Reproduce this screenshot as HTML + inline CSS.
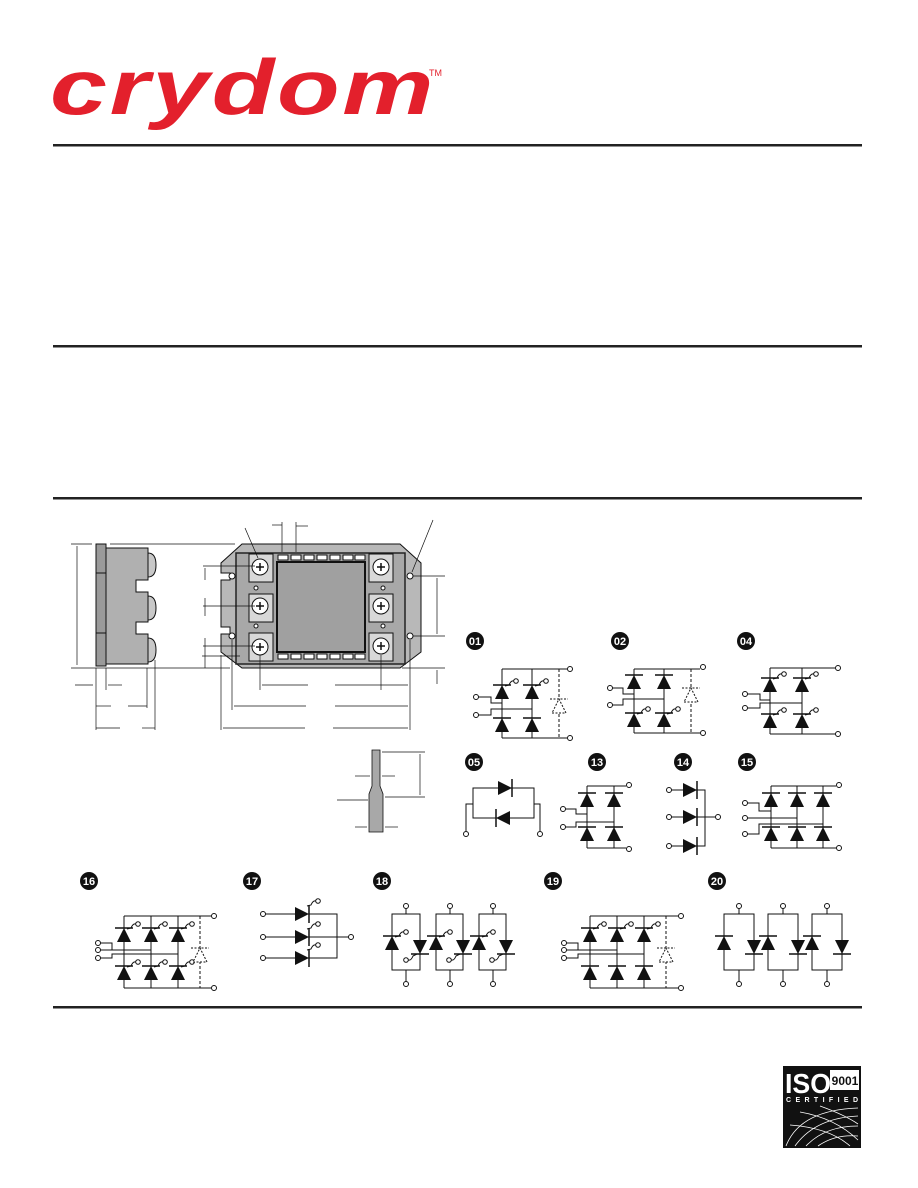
<!DOCTYPE html>
<html><head><meta charset="utf-8"><style>
html,body{margin:0;padding:0;background:#fff}
svg{display:block}
text{font-family:"Liberation Sans",sans-serif}
</style></head><body>
<svg width="918" height="1188" viewBox="0 0 918 1188" xmlns="http://www.w3.org/2000/svg">
<defs>
<g id="du"><polygon points="-7,7 7,7 0,-7" fill="#111"/><line x1="-9" y1="-7" x2="9" y2="-7" stroke="#111" stroke-width="1.5"/></g>
<g id="dd"><polygon points="-7,-7 7,-7 0,7" fill="#111"/><line x1="-9" y1="7" x2="9" y2="7" stroke="#111" stroke-width="1.5"/></g>
<g id="dr"><polygon points="-7,-7 -7,7 7,0" fill="#111"/><line x1="7" y1="-9" x2="7" y2="9" stroke="#111" stroke-width="1.5"/></g>
<g id="dl"><polygon points="7,-7 7,7 -7,0" fill="#111"/><line x1="-7" y1="-9" x2="-7" y2="9" stroke="#111" stroke-width="1.5"/></g>
<g id="g"><path d="M3,-6 L7,-7 Q9,-12 12,-11" fill="none" stroke="#111" stroke-width="1"/><circle cx="14" cy="-11" r="2.3" fill="#fff" stroke="#111" stroke-width="1"/></g>
<g id="g2"><path d="M-3,7 L-7,9 Q-9,14 -12,13" fill="none" stroke="#111" stroke-width="1"/><circle cx="-14" cy="13" r="2.3" fill="#fff" stroke="#111" stroke-width="1"/></g>
<g id="du0"><polygon points="-7,7 7,7 0,-7" fill="#fff" stroke="#111" stroke-dasharray="2,1.5"/><line x1="-9" y1="-7" x2="9" y2="-7" stroke="#111" stroke-dasharray="2,1.5"/></g>
<circle id="t" r="2.5" fill="#fff" stroke="#111" stroke-width="1"/>
</defs>

<text x="50" y="114" font-size="78" font-weight="bold" font-style="italic" fill="#e3202c" textLength="386" lengthAdjust="spacingAndGlyphs" style="letter-spacing:2px">crydom</text>
<text x="429" y="76" font-size="9" fill="#e3202c">TM</text>

<g fill="#222">
<rect x="53" y="144" width="809" height="2.5"/>
<rect x="53" y="345" width="809" height="2.5"/>
<rect x="53" y="497" width="809" height="2.5"/>
<rect x="53" y="1006" width="809" height="2.5"/>
</g>

<g stroke="#111" stroke-width="1">
<rect x="96" y="544" width="10" height="122" fill="#9a9a9a"/>
<line x1="96" y1="573" x2="106" y2="573"/><line x1="96" y1="633" x2="106" y2="633"/>
<path d="M106,548 H148 V580 H136 V592 H148 V622 H136 V634 H148 V664 H106 Z" fill="#b0b0b0"/>
<path d="M148,553 q8,0 8,12 q0,12 -8,12 Z M148,596 q8,0 8,12 q0,12 -8,12 Z M148,638 q8,0 8,12 q0,12 -8,12 Z" fill="#c8c8c8"/>
</g>
<g stroke="#111" stroke-width="0.7" fill="none">
<line x1="71" y1="544" x2="92" y2="544"/><line x1="71" y1="668" x2="230" y2="668"/>
<line x1="77" y1="546" x2="77" y2="665"/>
<line x1="110" y1="544" x2="235" y2="544"/>
<line x1="96" y1="668" x2="96" y2="730"/><line x1="106" y1="668" x2="106" y2="690"/>
<line x1="147" y1="668" x2="147" y2="708"/><line x1="155" y1="660" x2="155" y2="730"/>
<line x1="75" y1="685" x2="93" y2="685"/><line x1="108" y1="685" x2="122" y2="685"/>
<line x1="96" y1="706" x2="111" y2="706"/><line x1="128" y1="706" x2="147" y2="706"/>
<line x1="96" y1="728" x2="120" y2="728"/><line x1="142" y1="728" x2="155" y2="728"/>
</g>

<g stroke="#111" stroke-width="1">
<path d="M242,544 H400 L421,563 V652 L400,668 H242 L221,652 V634 H230 V627 H221 V580 H230 V573 H221 V563 Z" fill="#b8b8b8"/>
<rect x="236" y="553" width="169" height="111" fill="#a8a8a8" stroke="#222" stroke-width="1.5"/>
<rect x="277" y="562" width="88" height="90" fill="#a0a0a0" stroke="#111" stroke-width="2"/>
<rect x="249" y="554" width="24" height="28" fill="#d8d8d8"/>
<rect x="249" y="594" width="24" height="28" fill="#d8d8d8"/>
<rect x="249" y="633" width="24" height="28" fill="#d8d8d8"/>
<rect x="369" y="554" width="24" height="28" fill="#d8d8d8"/>
<rect x="369" y="594" width="24" height="28" fill="#d8d8d8"/>
<rect x="369" y="633" width="24" height="28" fill="#d8d8d8"/>
</g>
<g fill="#fff" stroke="#111" stroke-width="1">
<circle cx="260" cy="567" r="8"/><circle cx="260" cy="606" r="8"/><circle cx="260" cy="647" r="8"/>
<circle cx="381" cy="567" r="8"/><circle cx="381" cy="606" r="8"/><circle cx="381" cy="646" r="8"/>
<circle cx="256" cy="588" r="2"/><circle cx="256" cy="626" r="2"/><circle cx="383" cy="588" r="2"/><circle cx="383" cy="626" r="2"/>
<circle cx="410" cy="576" r="3"/><circle cx="410" cy="636" r="3"/><circle cx="232" cy="576" r="3"/><circle cx="232" cy="636" r="3"/>
</g>
<g stroke="#111" stroke-width="1.5">
<path d="M256,567h8M260,563v8M256,606h8M260,602v8M256,647h8M260,643v8M377,567h8M381,563v8M377,606h8M381,602v8M377,646h8M381,642v8"/>
</g>
<g fill="#fff" stroke="#111" stroke-width="1">
<rect x="278" y="555" width="10" height="5"/><rect x="291" y="555" width="10" height="5"/><rect x="304" y="555" width="10" height="5"/><rect x="317" y="555" width="10" height="5"/><rect x="330" y="555" width="10" height="5"/><rect x="343" y="555" width="10" height="5"/><rect x="355" y="555" width="10" height="5"/>
<rect x="278" y="654" width="10" height="5"/><rect x="291" y="654" width="10" height="5"/><rect x="304" y="654" width="10" height="5"/><rect x="317" y="654" width="10" height="5"/><rect x="330" y="654" width="10" height="5"/><rect x="343" y="654" width="10" height="5"/><rect x="355" y="654" width="10" height="5"/>
</g>
<g stroke="#111" stroke-width="0.7" fill="none">
<line x1="282" y1="522" x2="282" y2="552"/><line x1="296" y1="522" x2="296" y2="552"/>
<line x1="272" y1="525" x2="282" y2="525"/><line x1="296" y1="526" x2="308" y2="526"/>
<line x1="245" y1="528" x2="258" y2="558"/><line x1="433" y1="520" x2="412" y2="572"/>
<line x1="203" y1="566" x2="255" y2="566"/><line x1="203" y1="606" x2="255" y2="606"/><line x1="203" y1="646" x2="255" y2="646"/><line x1="202" y1="656" x2="240" y2="656"/>
<line x1="205" y1="568" x2="205" y2="580"/><line x1="205" y1="598" x2="205" y2="616"/><line x1="205" y1="638" x2="205" y2="668"/>
<line x1="413" y1="576" x2="445" y2="576"/><line x1="413" y1="636" x2="445" y2="636"/><line x1="402" y1="668" x2="445" y2="668"/>
<line x1="437" y1="578" x2="437" y2="634"/><line x1="437" y1="670" x2="437" y2="684"/>
<line x1="260" y1="655" x2="260" y2="690"/><line x1="381" y1="655" x2="381" y2="690"/><line x1="410" y1="640" x2="410" y2="730"/>
<line x1="221" y1="655" x2="221" y2="730"/><line x1="232" y1="640" x2="232" y2="710"/>
<line x1="262" y1="685" x2="308" y2="685"/><line x1="335" y1="685" x2="408" y2="685"/>
<line x1="234" y1="706" x2="306" y2="706"/><line x1="335" y1="706" x2="408" y2="706"/>
<line x1="223" y1="728" x2="305" y2="728"/><line x1="333" y1="728" x2="408" y2="728"/>
</g>

<g stroke="#111" stroke-width="0.8">
<path d="M372,750 H380 V786 L383,794 V832 H369 V794 L372,786 Z" fill="#a8a8a8"/>
<g fill="none" stroke-width="0.7">
<line x1="382" y1="752" x2="425" y2="752"/><line x1="385" y1="797" x2="425" y2="797"/>
<line x1="420" y1="754" x2="420" y2="795"/>
<line x1="355" y1="776" x2="370" y2="776"/><line x1="382" y1="776" x2="395" y2="776"/>
<line x1="337" y1="800" x2="368" y2="800"/>
<line x1="355" y1="827" x2="367" y2="827"/><line x1="385" y1="827" x2="398" y2="827"/>
</g></g>

<g font-size="11" font-weight="bold" fill="#fff" text-anchor="middle">
<circle cx="475" cy="641" r="9" fill="#111"/><text x="475" y="645">01</text>
<circle cx="620" cy="641" r="9" fill="#111"/><text x="620" y="645">02</text>
<circle cx="746" cy="641" r="9" fill="#111"/><text x="746" y="645">04</text>
<circle cx="474" cy="762" r="9" fill="#111"/><text x="474" y="766">05</text>
<circle cx="597" cy="762" r="9" fill="#111"/><text x="597" y="766">13</text>
<circle cx="683" cy="762" r="9" fill="#111"/><text x="683" y="766">14</text>
<circle cx="747" cy="762" r="9" fill="#111"/><text x="747" y="766">15</text>
<circle cx="89" cy="881" r="9" fill="#111"/><text x="89" y="885">16</text>
<circle cx="252" cy="881" r="9" fill="#111"/><text x="252" y="885">17</text>
<circle cx="382" cy="881" r="9" fill="#111"/><text x="382" y="885">18</text>
<circle cx="553" cy="881" r="9" fill="#111"/><text x="553" y="885">19</text>
<circle cx="717" cy="881" r="9" fill="#111"/><text x="717" y="885">20</text>
</g>

<g stroke="#111" stroke-width="1" fill="none">
<path d="M502,669H567M502,738H567M502,669V738M532,669V738M478,697H491V703H502M478,715H491V709H532"/>
<line x1="559" y1="669" x2="559" y2="738" stroke-dasharray="3,2"/>
<path d="M634,669H700M634,733H700M634,669V733M664,669V733M612,688H623V694H634M612,705H623V699H664"/>
<line x1="691" y1="669" x2="691" y2="733" stroke-dasharray="3,2"/>
<path d="M770,668H835M770,734H835M770,668V734M802,668V734M747,694H760V700H770M747,708H760V703H802"/>
<path d="M473,788H534V818H473ZM473,804H466V831M534,804H540V831"/>
<path d="M587,786H626M587,848H626M587,786V848M614,786V848M565,809H576V814H587M565,827H576V822H614"/>
<path d="M671,790H705V846H671M671,817H715"/>
<path d="M771,786H836M771,848H836M771,786V848M797,786V848M823,786V848M747,803H759V811H771M747,818H797M747,834H759V824H823"/>
<path d="M124,916H211M124,988H211M124,916V988M151,916V988M178,916V988M100,943H112V950H124M100,950H151M100,958H112V954H178"/>
<line x1="200" y1="916" x2="200" y2="988" stroke-dasharray="3,2"/>
<path d="M265,914H337V958H265M265,937H349"/>
<path d="M590,916H678M590,988H678M590,916V988M617,916V988M644,916V988M566,943H578V950H590M566,950H617M566,958H578V954H644"/>
<line x1="666" y1="916" x2="666" y2="988" stroke-dasharray="3,2"/>
<path d="M392,914H420V970H392ZM406,914V908M406,970V982"/>
<path d="M436,914H463V970H436ZM450,914V908M450,970V982"/>
<path d="M479,914H506V970H479ZM493,914V908M493,970V982"/>
<path d="M724,914H754V970H724ZM739,914V908M739,970V982"/>
<path d="M768,914H798V970H768ZM783,914V908M783,970V982"/>
<path d="M812,914H842V970H812ZM827,914V908M827,970V982"/>
</g>

<g>
<use href="#du" x="502" y="692"/><use href="#g" x="502" y="692"/><use href="#du" x="532" y="692"/><use href="#g" x="532" y="692"/>
<use href="#du" x="502" y="725"/><use href="#du" x="532" y="725"/><use href="#du0" x="559" y="706"/>
<use href="#du" x="634" y="682"/><use href="#du" x="664" y="682"/><use href="#du" x="634" y="720"/><use href="#g" x="634" y="720"/><use href="#du" x="664" y="720"/><use href="#g" x="664" y="720"/><use href="#du0" x="691" y="695"/>
<use href="#du" x="770" y="685"/><use href="#g" x="770" y="685"/><use href="#du" x="802" y="685"/><use href="#g" x="802" y="685"/><use href="#du" x="770" y="721"/><use href="#g" x="770" y="721"/><use href="#du" x="802" y="721"/><use href="#g" x="802" y="721"/>
<use href="#dr" x="505" y="788"/><use href="#dl" x="503" y="818"/>
<use href="#du" x="587" y="800"/><use href="#du" x="614" y="800"/><use href="#du" x="587" y="834"/><use href="#du" x="614" y="834"/>
<use href="#dr" x="690" y="790"/><use href="#dr" x="690" y="817"/><use href="#dr" x="690" y="846"/>
<use href="#du" x="771" y="800"/><use href="#du" x="797" y="800"/><use href="#du" x="823" y="800"/><use href="#du" x="771" y="834"/><use href="#du" x="797" y="834"/><use href="#du" x="823" y="834"/>
<use href="#du" x="124" y="935"/><use href="#g" x="124" y="935"/><use href="#du" x="151" y="935"/><use href="#g" x="151" y="935"/><use href="#du" x="178" y="935"/><use href="#g" x="178" y="935"/>
<use href="#du" x="124" y="973"/><use href="#g" x="124" y="973"/><use href="#du" x="151" y="973"/><use href="#g" x="151" y="973"/><use href="#du" x="178" y="973"/><use href="#g" x="178" y="973"/><use href="#du0" x="200" y="955"/>
<use href="#dr" x="302" y="914"/><use href="#g" x="304" y="912"/><use href="#dr" x="302" y="937"/><use href="#g" x="304" y="935"/><use href="#dr" x="302" y="958"/><use href="#g" x="304" y="956"/>
<use href="#du" x="590" y="935"/><use href="#g" x="590" y="935"/><use href="#du" x="617" y="935"/><use href="#g" x="617" y="935"/><use href="#du" x="644" y="935"/><use href="#g" x="644" y="935"/>
<use href="#du" x="590" y="973"/><use href="#du" x="617" y="973"/><use href="#du" x="644" y="973"/><use href="#du0" x="666" y="955"/>
<use href="#du" x="392" y="943"/><use href="#g" x="392" y="943"/><use href="#dd" x="420" y="947"/><use href="#g2" x="420" y="947"/>
<use href="#du" x="436" y="943"/><use href="#g" x="436" y="943"/><use href="#dd" x="463" y="947"/><use href="#g2" x="463" y="947"/>
<use href="#du" x="479" y="943"/><use href="#g" x="479" y="943"/><use href="#dd" x="506" y="947"/><use href="#g2" x="506" y="947"/>
<use href="#du" x="724" y="943"/><use href="#dd" x="754" y="947"/><use href="#du" x="768" y="943"/><use href="#dd" x="798" y="947"/><use href="#du" x="812" y="943"/><use href="#dd" x="842" y="947"/>
</g>
<g>
<use href="#t" x="570" y="669"/><use href="#t" x="570" y="738"/><use href="#t" x="476" y="697"/><use href="#t" x="476" y="715"/>
<use href="#t" x="703" y="667"/><use href="#t" x="703" y="733"/><use href="#t" x="610" y="688"/><use href="#t" x="610" y="705"/>
<use href="#t" x="838" y="668"/><use href="#t" x="838" y="734"/><use href="#t" x="745" y="694"/><use href="#t" x="745" y="708"/>
<use href="#t" x="466" y="834"/><use href="#t" x="540" y="834"/>
<use href="#t" x="629" y="785"/><use href="#t" x="629" y="849"/><use href="#t" x="563" y="809"/><use href="#t" x="563" y="827"/>
<use href="#t" x="669" y="790"/><use href="#t" x="669" y="817"/><use href="#t" x="669" y="846"/><use href="#t" x="718" y="817"/>
<use href="#t" x="839" y="785"/><use href="#t" x="839" y="848"/><use href="#t" x="745" y="803"/><use href="#t" x="745" y="818"/><use href="#t" x="745" y="834"/>
<use href="#t" x="214" y="916"/><use href="#t" x="214" y="988"/><use href="#t" x="98" y="943"/><use href="#t" x="98" y="950"/><use href="#t" x="98" y="958"/>
<use href="#t" x="263" y="914"/><use href="#t" x="263" y="937"/><use href="#t" x="263" y="958"/><use href="#t" x="351" y="937"/>
<use href="#t" x="681" y="916"/><use href="#t" x="681" y="988"/><use href="#t" x="564" y="943"/><use href="#t" x="564" y="950"/><use href="#t" x="564" y="958"/>
<use href="#t" x="406" y="906"/><use href="#t" x="406" y="984"/><use href="#t" x="450" y="906"/><use href="#t" x="450" y="984"/><use href="#t" x="493" y="906"/><use href="#t" x="493" y="984"/>
<use href="#t" x="739" y="906"/><use href="#t" x="739" y="984"/><use href="#t" x="783" y="906"/><use href="#t" x="783" y="984"/><use href="#t" x="827" y="906"/><use href="#t" x="827" y="984"/>
</g>

<g>
<rect x="783" y="1066" width="78" height="82" fill="#111"/>
<text x="785" y="1093" font-size="28" font-weight="bold" fill="#fff" textLength="46" lengthAdjust="spacingAndGlyphs">ISO</text>
<rect x="830" y="1070" width="29" height="20" fill="#fff"/>
<text x="845" y="1085" font-size="12" font-weight="bold" fill="#111" text-anchor="middle">9001</text>
<text x="822" y="1102" font-size="7" font-weight="bold" fill="#fff" text-anchor="middle" textLength="72" lengthAdjust="spacing">CERTIFIED</text>
<g stroke="#fff" stroke-width="0.8" fill="none">
<path d="M786,1146 Q800,1110 858,1108"/><path d="M795,1146 Q815,1118 858,1116"/><path d="M806,1146 Q825,1126 858,1126"/><path d="M818,1146 Q835,1134 858,1136"/>
<path d="M790,1125 Q830,1128 850,1146"/><path d="M800,1112 Q835,1118 858,1140"/><path d="M820,1106 Q845,1115 858,1124"/>
</g>
</g>
</svg>
</body></html>
